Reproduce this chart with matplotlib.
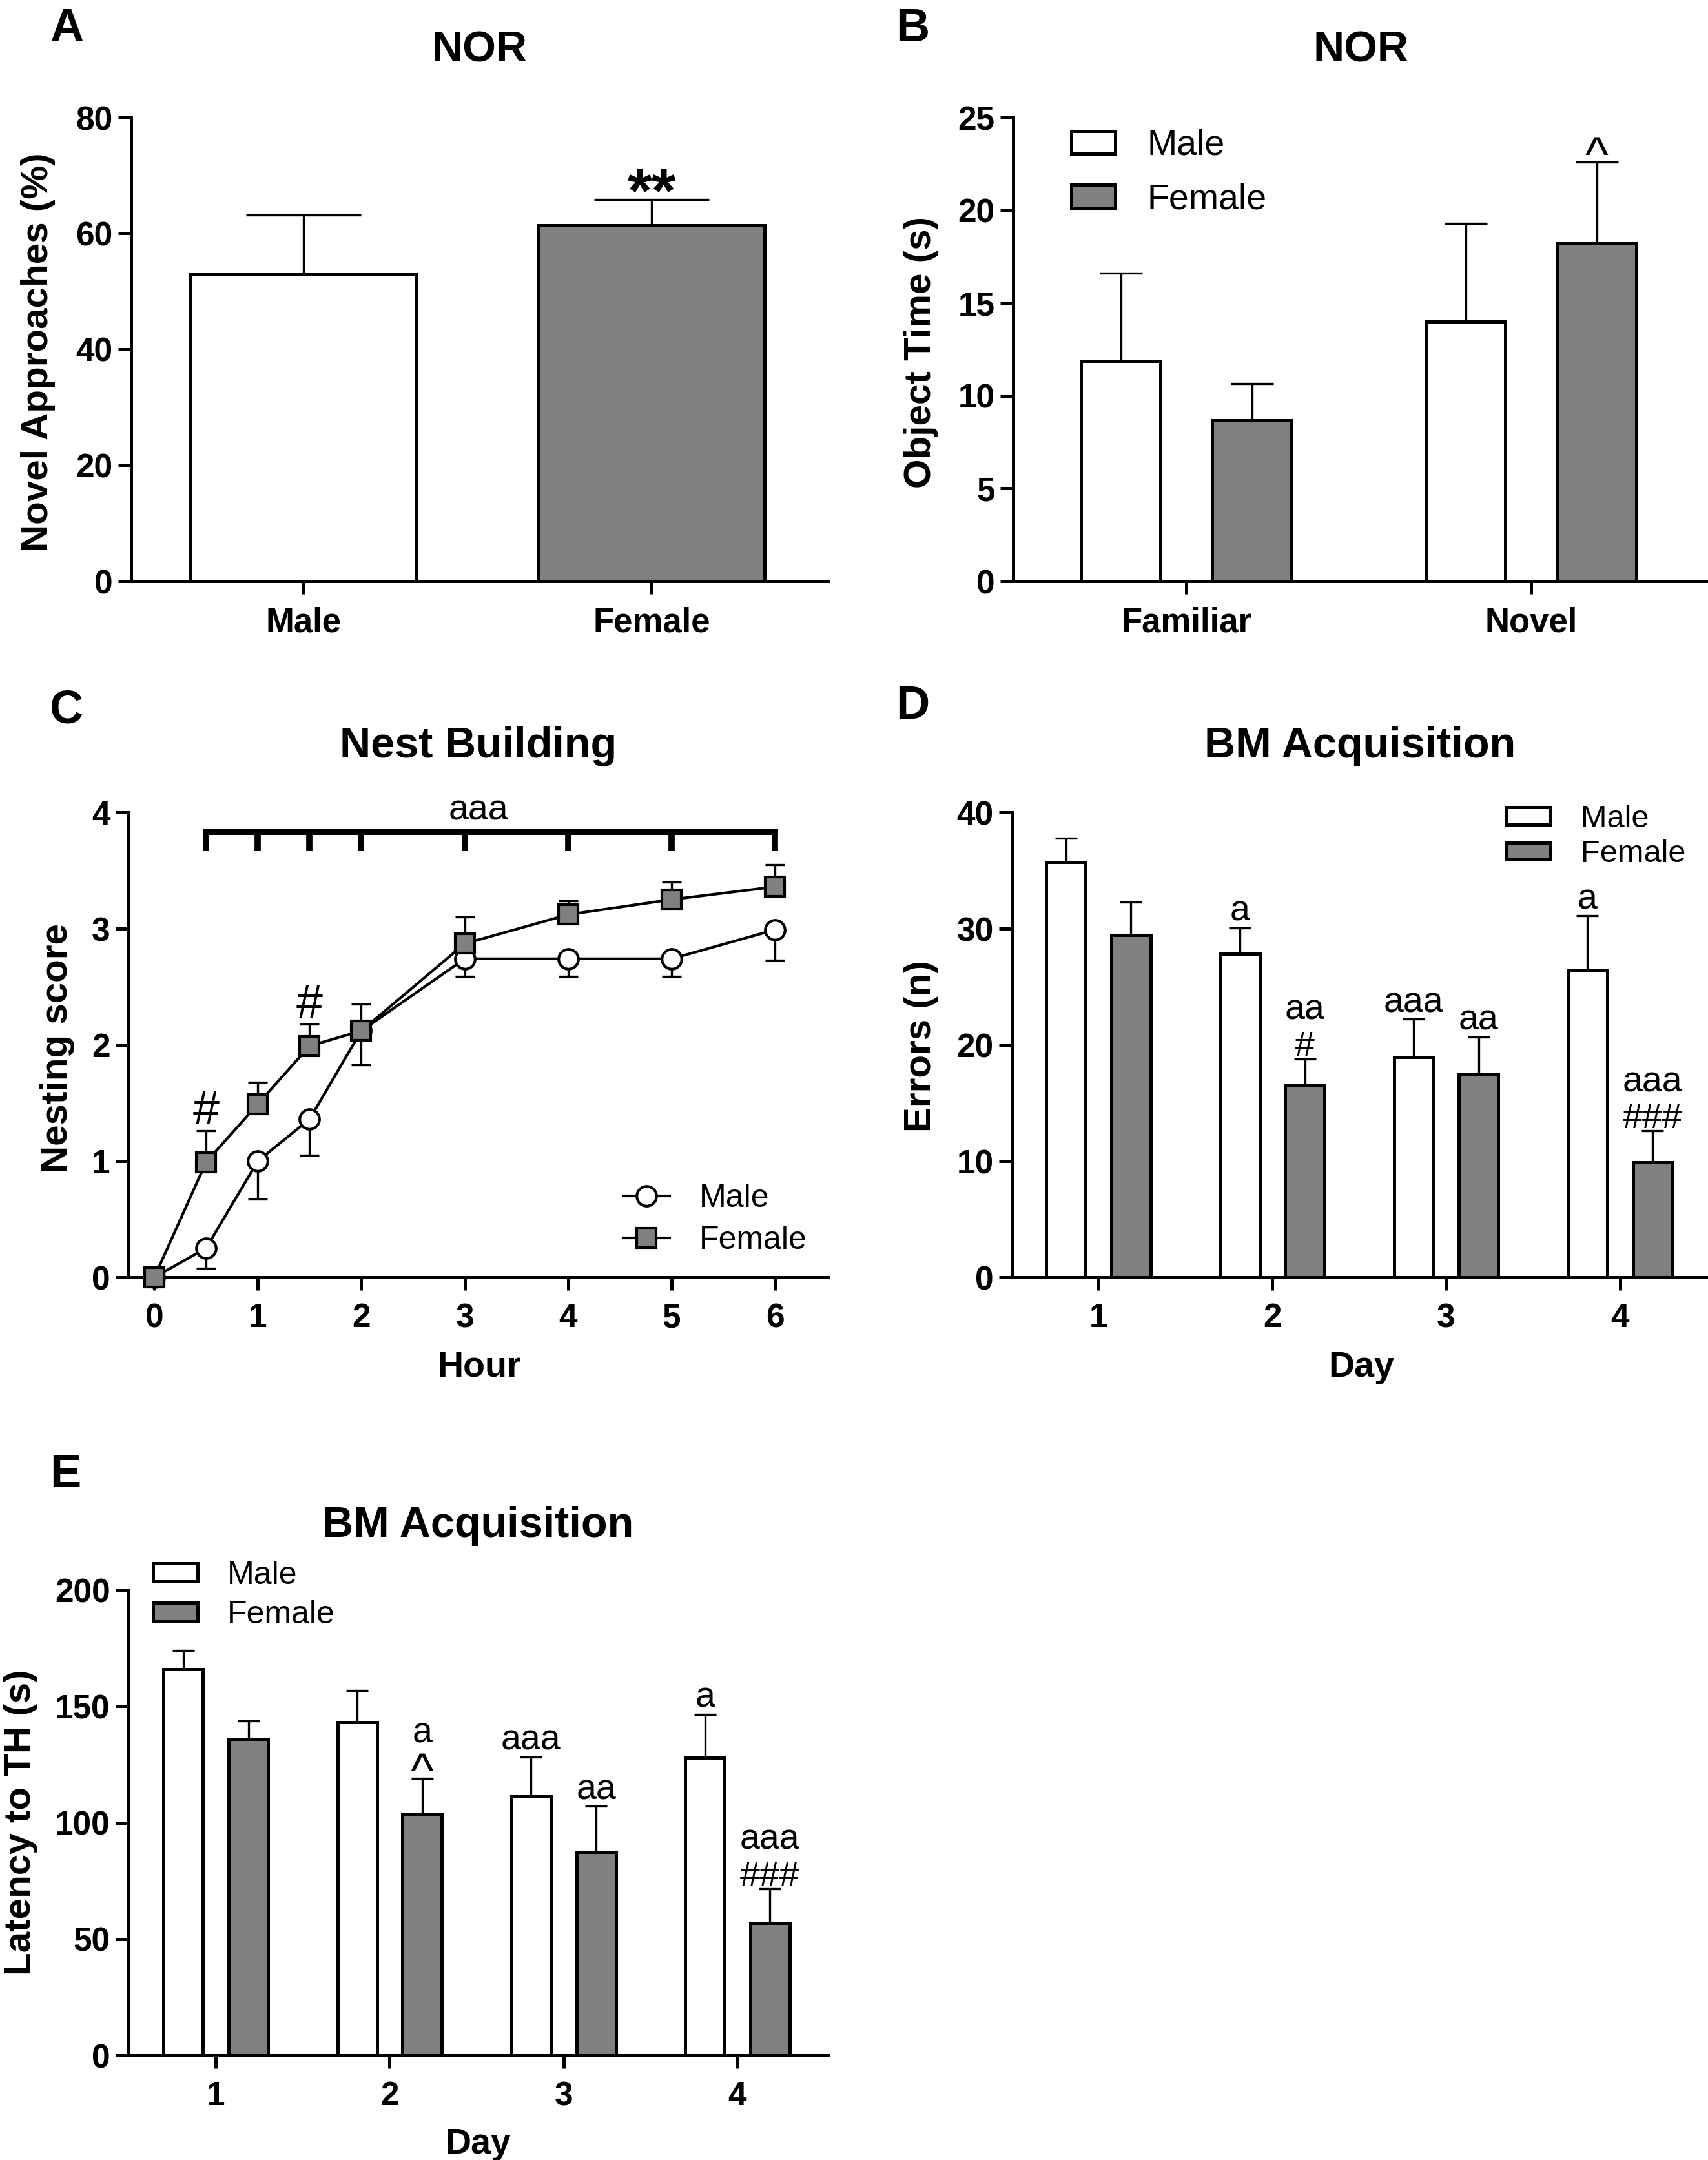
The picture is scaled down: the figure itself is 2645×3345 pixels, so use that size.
import matplotlib
matplotlib.use('Agg')
import matplotlib.pyplot as plt
from matplotlib.lines import Line2D
from matplotlib.patches import Patch
import matplotlib.transforms as mtransforms
import numpy as np

plt.rcParams['font.family'] = ['Liberation Sans', 'DejaVu Sans']
plt.rcParams['font.weight'] = 'bold'
plt.rcParams['axes.titleweight'] = 'bold'
plt.rcParams['axes.labelweight'] = 'bold'

# ---------------- data ----------------
# A: NOR novel approaches
sexes = ['Male', 'Female']
nor_approach_mean = [52.9, 61.4]
nor_approach_sem = [10.3, 4.5]
nor_approach_sig = [[], ['**']]

# B: NOR object time
objects = ['Familiar', 'Novel']
obj_time_male = [11.87, 13.98]
obj_time_male_sem = [4.73, 5.30]
obj_time_female = [8.68, 18.25]
obj_time_female_sem = [1.96, 4.35]
obj_time_male_sig = [[], []]
obj_time_female_sig = [[], ['^']]

# C: nest building
hours = [0, 0.5, 1, 1.5, 2, 3, 4, 5, 6]
hour_ticks = [0, 1, 2, 3, 4, 5, 6]
nest_male = [0, 0.25, 1.0, 1.36, 2.12, 2.74, 2.74, 2.74, 2.99]
nest_male_sem = [0, 0.17, 0.33, 0.31, 0.29, 0.15, 0.15, 0.15, 0.26]
nest_female = [0, 0.99, 1.49, 1.99, 2.12, 2.87, 3.12, 3.25, 3.36]
nest_female_sem = [0, 0.27, 0.19, 0.19, 0.23, 0.23, 0.12, 0.15, 0.19]
nest_female_sig = ['', '#', '', '#', '', '', '', '', '']
nest_time_sig = 'aaa'

# D: BM acquisition errors
days = [1, 2, 3, 4]
errors_male = [35.7, 27.84, 18.94, 26.47]
errors_male_sem = [2.1, 2.24, 3.26, 4.63]
errors_female = [29.45, 16.55, 17.45, 9.88]
errors_female_sem = [2.85, 2.25, 3.22, 2.72]
errors_male_sig = [[], ['a'], ['aaa'], ['a']]
errors_female_sig = [[], ['#', 'aa'], ['aa'], ['###', 'aaa']]

# E: BM acquisition latency
latency_male = [165.9, 143.2, 111.3, 128.0]
latency_male_sem = [8.0, 13.4, 16.9, 18.5]
latency_female = [135.8, 103.7, 87.5, 57.0]
latency_female_sem = [8.0, 15.4, 19.5, 14.6]
latency_male_sig = [[], [], ['aaa'], ['a']]
latency_female_sig = [[], ['^', 'a'], ['aa'], ['###', 'aaa']]

# ---------------- figure ----------------
W, H = 2645, 3345
DPI = 100
fig = plt.figure(figsize=(W / DPI, H / DPI), dpi=DPI)
fig.patch.set_facecolor('white')

GRAY = '#808080'
LW_AX = 3.6
LW_BAR = 3.6
LW_ERR = 2.4
TICK_FS = 37
YLAB_FS = 42
XLAB_FS = 40
TITLE_FS = 48
ANN_FS = 40


def add_axes_px(x0, x1, ytop, ybot):
    return fig.add_axes([x0 / W, 1 - ybot / H, (x1 - x0) / W, (ybot - ytop) / H])


def style_axes(ax):
    ax.spines['top'].set_visible(False)
    ax.spines['right'].set_visible(False)
    for s in ('left', 'bottom'):
        ax.spines[s].set_linewidth(LW_AX)
        ax.spines[s].set_capstyle('projecting')
    ax.tick_params(direction='out', width=LW_AX, length=14.4, labelsize=TICK_FS)
    ax.tick_params(axis='x', pad=14)
    ax.tick_params(axis='y', pad=6)


def draw_bars(ax, x, mean, sem, color, width, capsize):
    ax.bar(x, mean, width=width, color=color, edgecolor='black',
           linewidth=LW_BAR, zorder=2)
    ax.errorbar(x, mean, yerr=[np.zeros(len(mean)), sem], fmt='none',
                ecolor='black', elinewidth=LW_ERR, capsize=capsize,
                capthick=LW_ERR, zorder=1.5)


# baseline offset (pixels above the error-bar top) of the first line,
# and the step to the next line, by the glyph that starts the line
FIRST_OFF = {'a': 11, '#': 4, '^': -14}
STEP = {'a': 57, '#': 57, '^': 69}
LINE_FS = {'^': 55}


def annotate_stack(ax, xs, tops, sigs, size=ANN_FS):
    for x, top, lines in zip(xs, tops, sigs):
        if not lines:
            continue
        off = FIRST_OFF.get(lines[0][0], 8)
        for s in lines:
            ax.annotate(s, (x, top), xytext=(0, off),
                        textcoords='offset pixels', ha='center', va='baseline',
                        fontsize=LINE_FS.get(s[0], size), fontweight='normal',
                        annotation_clip=False)
            off += STEP.get(s[0], 57)


def panel_letter(x, y, s):
    fig.text(x / W, 1 - y / H, s, ha='center', va='baseline',
             fontsize=52, fontweight='bold')


def set_title(ax, s, y):
    ax.set_title(s, fontsize=TITLE_FS, y=y, pad=0, va='baseline')


def set_ylabel(ax, s, x, y=0.5):
    ax.set_ylabel(s, fontsize=YLAB_FS, va='center')
    ax.yaxis.set_label_coords(x, y)


def set_xlabel(ax, s, x, y):
    ax.set_xlabel(s, fontsize=XLAB_FS, va='top')
    ax.xaxis.set_label_coords(x, y)


def bar_legend(ax, fs, anchor, hl, hh, pad, ls):
    handles = [Patch(facecolor='white', edgecolor='black', linewidth=LW_BAR),
               Patch(facecolor=GRAY, edgecolor='black', linewidth=LW_BAR)]
    ax.legend(handles, sexes, loc='upper left', bbox_to_anchor=anchor,
              frameon=False, prop=dict(size=fs, weight='normal'),
              handlelength=hl, handleheight=hh, handletextpad=pad,
              labelspacing=ls, borderpad=0, borderaxespad=0)


# ---------------- Panel A ----------------
axA = add_axes_px(203, 1282, 182, 900)
style_axes(axA)
xA = np.arange(len(sexes))
draw_bars(axA, xA, nor_approach_mean, nor_approach_sem, ['white', GRAY], 0.648, 64)
axA.set_xlim(-0.495, 1.506)
axA.set_ylim(0, 80)
axA.set_yticks(np.arange(0, 81, 20))
axA.set_xticks(xA, sexes)
axA.tick_params(axis='x', labelsize=38)
set_ylabel(axA, 'Novel Approaches (%)', -0.1335, 0.494)
set_title(axA, 'NOR', 1.120)
topsA = np.array(nor_approach_mean) + np.array(nor_approach_sem)
for x, t, lines in zip(xA, topsA, nor_approach_sig):
    for s in lines:
        axA.annotate(s, (x, t), xytext=(0, -19), textcoords='offset pixels',
                     ha='center', va='baseline', fontsize=70, fontweight='bold',
                     annotation_clip=False)
panel_letter(103, 64, 'A')

# ---------------- Panel B ----------------
axB = add_axes_px(1569, 2645, 182, 900)
style_axes(axB)
xB = np.arange(len(objects))
draw_bars(axB, xB - 0.19, obj_time_male, obj_time_male_sem, 'white', 0.23, 24)
draw_bars(axB, xB + 0.19, obj_time_female, obj_time_female_sem, GRAY, 0.23, 24)
axB.set_xlim(-0.502, 1.513)
axB.set_ylim(0, 25)
axB.set_yticks(np.arange(0, 26, 5))
axB.set_xticks(xB, objects)
axB.tick_params(axis='x', labelsize=38)
set_ylabel(axB, 'Object Time (s)', -0.133, 0.494)
set_title(axB, 'NOR', 1.120)
annotate_stack(axB, xB + 0.19, np.array(obj_time_female) + np.array(obj_time_female_sem),
               obj_time_female_sig)
bar_legend(axB, 40, (0.084, 0.975), 1.22, 0.6, 0.88, 0.57)
panel_letter(1413, 64, 'B')

# ---------------- Panel C ----------------
axC = add_axes_px(199, 1282, 1258, 1978)
style_axes(axC)
zeros = np.zeros(len(hours))
axC.errorbar(hours, nest_male, yerr=[nest_male_sem, zeros], fmt='none',
             ecolor='black', elinewidth=LW_ERR, capsize=11, capthick=LW_ERR,
             zorder=2, clip_on=False)
axC.errorbar(hours, nest_female, yerr=[zeros, nest_female_sem], fmt='none',
             ecolor='black', elinewidth=LW_ERR, capsize=11, capthick=LW_ERR,
             zorder=2, clip_on=False)
axC.plot(hours, nest_male, '-o', color='black', lw=3, ms=22, mfc='white',
         mec='black', mew=3, zorder=3, clip_on=False)
axC.plot(hours, nest_female, '-s', color='black', lw=3, ms=22, mfc=GRAY,
         mec='black', mew=3, zorder=4, clip_on=False)
axC.set_xlim(-0.25, 6.51)
axC.set_ylim(0, 4)
axC.set_xticks(hour_ticks)
axC.set_yticks(np.arange(0, 5, 1))
# bracket over all time points (effect of time)
br_y, br_low = 3.836, 3.667
axC.plot([hours[1], hours[-1]], [br_y, br_y], color='black', lw=6.5,
         solid_capstyle='projecting', clip_on=False, zorder=3)
for h in hours[1:]:
    axC.plot([h, h], [br_low, br_y], color='black', lw=7,
             solid_capstyle='butt', clip_on=False, zorder=3)
blend = mtransforms.blended_transform_factory(axC.transAxes, axC.transData)
axC.annotate(nest_time_sig, (0.5, br_y), xycoords=blend, xytext=(0, 18),
             textcoords='offset pixels', ha='center', va='baseline',
             fontsize=ANN_FS, fontweight='normal', annotation_clip=False)
for h, m, e, s in zip(hours, nest_female, nest_female_sem, nest_female_sig):
    if s:
        axC.annotate(s, (h, m + e), xytext=(0, 10), textcoords='offset pixels',
                     ha='center', va='baseline', fontsize=53,
                     fontweight='normal', annotation_clip=False)
set_ylabel(axC, 'Nesting score', -0.102, 0.493)
set_xlabel(axC, 'Hour', 0.501, -0.158)
set_title(axC, 'Nest Building', 1.118)
legC = [Line2D([0], [0], color='black', lw=3, marker='o', ms=22, mfc='white',
               mec='black', mew=3),
        Line2D([0], [0], color='black', lw=3, marker='s', ms=22, mfc=GRAY,
               mec='black', mew=3)]
axC.legend(legC, sexes, loc='upper left', bbox_to_anchor=(0.707, 0.201),
           frameon=False, prop=dict(size=36, weight='normal'), numpoints=1,
           handlelength=1.44, handletextpad=0.92, labelspacing=0.38,
           borderpad=0, borderaxespad=0)
panel_letter(103, 1120, 'C')

# ---------------- Panel D ----------------
axD = add_axes_px(1567, 2645, 1258, 1978)
style_axes(axD)
xD = np.array(days, dtype=float)
draw_bars(axD, xD - 0.187, errors_male, errors_male_sem, 'white', 0.227, 12)
draw_bars(axD, xD + 0.187, errors_female, errors_female_sem, GRAY, 0.227, 12)
axD.set_xlim(0.502, 4.506)
axD.set_ylim(0, 40)
axD.set_yticks(np.arange(0, 41, 10))
axD.set_xticks(days)
annotate_stack(axD, xD - 0.187, np.array(errors_male) + np.array(errors_male_sem), errors_male_sig)
annotate_stack(axD, xD + 0.187, np.array(errors_female) + np.array(errors_female_sem), errors_female_sig)
set_ylabel(axD, 'Errors (n)', -0.131, 0.497)
set_xlabel(axD, 'Day', 0.502, -0.158)
set_title(axD, 'BM Acquisition', 1.118)
bar_legend(axD, 35, (0.711, 1.017), 1.38, 0.45, 0.97, 0.2)
panel_letter(1413, 1113, 'D')

# ---------------- Panel E ----------------
axE = add_axes_px(199, 1282, 2462, 3183)
style_axes(axE)
draw_bars(axE, xD - 0.187, latency_male, latency_male_sem, 'white', 0.227, 12)
draw_bars(axE, xD + 0.187, latency_female, latency_female_sem, GRAY, 0.227, 12)
axE.set_xlim(0.498, 4.52)
axE.set_ylim(0, 200)
axE.set_yticks(np.arange(0, 201, 50))
axE.set_xticks(days)
annotate_stack(axE, xD - 0.187, np.array(latency_male) + np.array(latency_male_sem), latency_male_sig)
annotate_stack(axE, xD + 0.187, np.array(latency_female) + np.array(latency_female_sem), latency_female_sig)
set_ylabel(axE, 'Latency to TH (s)', -0.154, 0.50)
set_xlabel(axE, 'Day', 0.50, -0.155)
set_title(axE, 'BM Acquisition', 1.114)
bar_legend(axE, 36, (0.035, 1.063), 1.38, 0.5, 0.92, 0.30)
panel_letter(101, 2303, 'E')

fig.savefig('out.png', dpi=DPI, facecolor='white')
